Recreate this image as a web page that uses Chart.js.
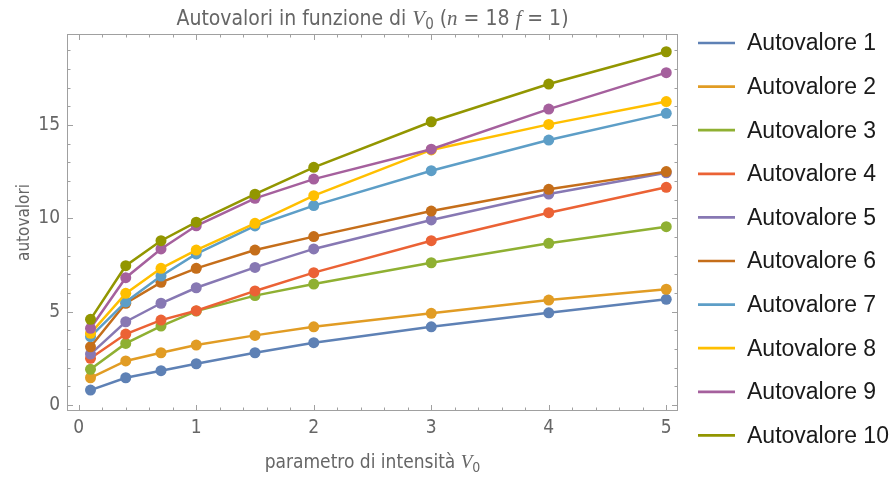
<!DOCTYPE html>
<html>
<head>
<meta charset="utf-8">
<script src="https://cdn.jsdelivr.net/npm/chart.js@4.4.1/dist/chart.umd.min.js"></script>
<style>
  html, body { margin: 0; padding: 0; background: #fff; }
</style>
</head>
<body>
<canvas id="chart" width="896" height="479"></canvas>
<script>
// valori di V0
const v0Values = [0.1, 0.4, 0.7, 1, 1.5, 2, 3, 4, 5];

const autovalore1 = [0.80, 1.46, 1.84, 2.21, 2.80, 3.34, 4.19, 4.94, 5.66];
const autovalore2 = [1.46, 2.36, 2.80, 3.21, 3.73, 4.19, 4.91, 5.62, 6.20];
const autovalore3 = [1.91, 3.30, 4.23, 5.03, 5.86, 6.48, 7.62, 8.66, 9.55];
const autovalore4 = [2.50, 3.80, 4.55, 5.05, 6.11, 7.09, 8.80, 10.30, 11.66];
const autovalore5 = [2.73, 4.46, 5.45, 6.28, 7.37, 8.36, 9.91, 11.30, 12.44];
const autovalore6 = [3.12, 5.45, 6.57, 7.32, 8.30, 9.02, 10.39, 11.55, 12.50];
const autovalore7 = [3.66, 5.52, 6.91, 8.09, 9.59, 10.68, 12.55, 14.19, 15.62];
const autovalore8 = [3.84, 5.98, 7.32, 8.30, 9.73, 11.21, 13.66, 15.03, 16.25];
const autovalore9 = [4.11, 6.82, 8.36, 9.60, 11.07, 12.10, 13.70, 15.85, 17.80];
const autovalore10 = [4.59, 7.46, 8.80, 9.79, 11.29, 12.73, 15.17, 17.19, 18.92];

const seriesNames = ['Autovalore 1', 'Autovalore 2', 'Autovalore 3', 'Autovalore 4', 'Autovalore 5',
  'Autovalore 6', 'Autovalore 7', 'Autovalore 8', 'Autovalore 9', 'Autovalore 10'];
const seriesColors = ['#5E81B5', '#E19C24', '#8FB032', '#EB6235', '#8778B3',
  '#C56E1A', '#5D9EC7', '#FFBF00', '#A5609D', '#929600'];

const xTicks = [0, 1, 2, 3, 4, 5];
const yTicks = [0, 5, 10, 15];

const allSeries = [autovalore1, autovalore2, autovalore3, autovalore4, autovalore5,
  autovalore6, autovalore7, autovalore8, autovalore9, autovalore10];

const narrow = "'Liberation Sans Narrow', 'Arial Narrow', 'DejaVu Sans Condensed', sans-serif";
const greyText = '#666666';
const frameColor = '#a0a0a0';

function drawRuns(ctx, runs, cx, baseline) {
  ctx.save();
  ctx.textBaseline = 'alphabetic';
  ctx.textAlign = 'left';
  let total = 0;
  runs.forEach(r => { ctx.font = r.font; r.w = ctx.measureText(r.text).width; total += r.w; });
  let x = cx - total / 2;
  runs.forEach(r => {
    ctx.font = r.font;
    ctx.fillStyle = greyText;
    ctx.fillText(r.text, x, baseline + (r.dy || 0));
    x += r.w;
  });
  ctx.restore();
}

// cornice con tacche verso l'interno (stile Mathematica)
const framePlugin = {
  id: 'frame',
  beforeDatasetsDraw(chart) {
    const {ctx, chartArea: a, scales: {x, y}} = chart;
    ctx.save();
    ctx.strokeStyle = frameColor;
    ctx.lineWidth = 1;
    ctx.strokeRect(a.left + 0.5, a.top + 0.5, a.right - a.left - 1, a.bottom - a.top - 1);
    ctx.beginPath();
    for (let v = 0; v <= 5.0001; v += 0.2) {
      const px = Math.round(x.getPixelForValue(v)) + 0.5;
      const len = Math.abs(v - Math.round(v)) < 1e-6 ? 6 : 3.5;
      ctx.moveTo(px, a.bottom); ctx.lineTo(px, a.bottom - len);
      ctx.moveTo(px, a.top); ctx.lineTo(px, a.top + len);
    }
    for (let v = 0; v <= 19; v += 1) {
      const py = Math.round(y.getPixelForValue(v)) + 0.5;
      const len = v % 5 === 0 ? 6 : 3.5;
      ctx.moveTo(a.left, py); ctx.lineTo(a.left + len, py);
      ctx.moveTo(a.right, py); ctx.lineTo(a.right - len, py);
    }
    ctx.stroke();
    ctx.restore();
  },
  afterDraw(chart) {
    const {ctx, chartArea: a} = chart;
    const cx = (a.left + a.right) / 2;
    const serifIt = "italic 21px 'Liberation Serif', serif";
    const tf = '21px ' + narrow;
    drawRuns(ctx, [
      {text: 'Autovalori in funzione di ', font: tf},
      {text: 'V', font: serifIt},
      {text: '0', font: '15px ' + narrow, dy: 4},
      {text: ' (', font: tf},
      {text: 'n', font: serifIt},
      {text: ' = 18 ', font: tf},
      {text: 'f', font: serifIt},
      {text: ' = 1)', font: tf}
    ], cx, 25);
    drawRuns(ctx, [
      {text: 'parametro di intensità ', font: '19px ' + narrow},
      {text: 'V', font: "italic 19px 'Liberation Serif', serif"},
      {text: '0', font: '14px ' + narrow, dy: 4}
    ], cx, 468);

    // legenda
    ctx.save();
    chart.data.datasets.forEach((ds, i) => {
      const ly = 43 + i * 43.6;
      ctx.strokeStyle = ds.borderColor;
      ctx.lineWidth = 2.7;
      ctx.beginPath();
      ctx.moveTo(698, ly); ctx.lineTo(735, ly);
      ctx.stroke();
      ctx.fillStyle = '#1a1a1a';
      ctx.font = "23px 'Liberation Sans', Arial, sans-serif";
      ctx.textBaseline = 'middle';
      ctx.fillText(ds.label, 747, ly + 1);
    });
    ctx.restore();
  }
};

const datasets = allSeries.map((vals, i) => ({
  label: seriesNames[i],
  data: v0Values.map((v, j) => ({x: v, y: vals[j]})),
  borderColor: seriesColors[i],
  backgroundColor: seriesColors[i],
  borderWidth: 2.5,
  pointRadius: 5.5,
  pointBorderWidth: 0,
  pointHoverRadius: 5.5,
  tension: 0,
  order: allSeries.length - i
}));

new Chart(document.getElementById('chart'), {
  type: 'line',
  data: {datasets},
  options: {
    responsive: false,
    devicePixelRatio: 1,
    animation: false,
    layout: {padding: {top: 34, right: 218, bottom: 0, left: 0}},
    plugins: {
      legend: {display: false},
      title: {display: false},
      tooltip: {enabled: false}
    },
    scales: {
      x: {
        type: 'linear',
        min: -0.1,
        max: 5.1,
        afterBuildTicks: s => { s.ticks = xTicks.map(v => ({value: v})); },
        afterFit: s => { s.height = 68; },
        grid: {display: false, drawTicks: false},
        border: {display: false},
        ticks: {color: greyText, font: {family: narrow, size: 19}, padding: 6, maxRotation: 0}
      },
      y: {
        type: 'linear',
        min: -0.32,
        max: 19.87,
        afterBuildTicks: s => { s.ticks = yTicks.map(v => ({value: v})); },
        afterFit: s => { s.width = 67; },
        grid: {display: false, drawTicks: false},
        border: {display: false},
        ticks: {color: greyText, font: {family: narrow, size: 19}, padding: 7},
        title: {display: true, text: 'autovalori', color: greyText,
          font: {family: narrow, size: 17}, padding: {top: 14, bottom: 0}}
      }
    }
  },
  plugins: [framePlugin]
});
</script>
</body>
</html>
